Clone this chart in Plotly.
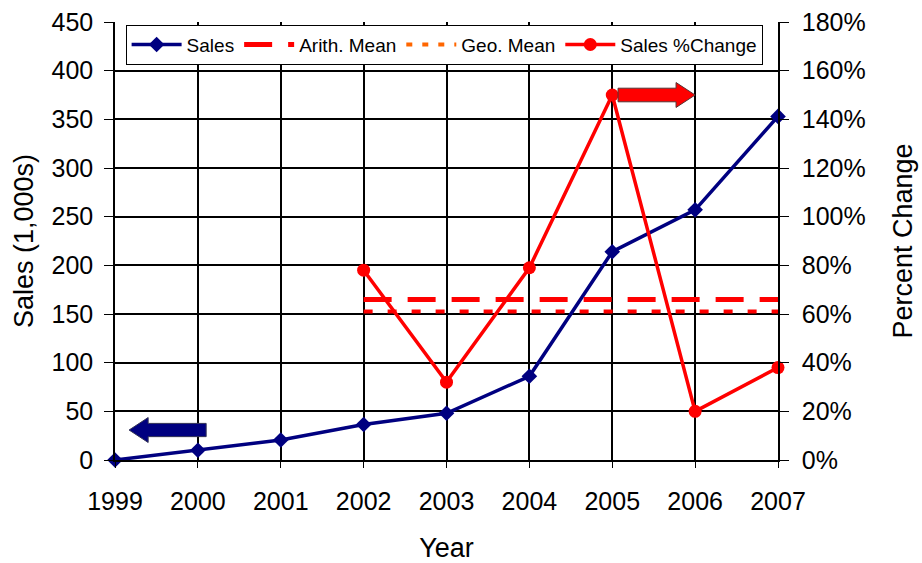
import plotly.graph_objects as go

years = [1999, 2000, 2001, 2002, 2003, 2004, 2005, 2006, 2007]
sales = [0, 10, 20.5, 36.5, 48, 86, 214, 257, 353]
pct_change = [None, None, None, 78, 32, 79, 150, 20, 38]
mean_years = [2002, 2007]
arith_mean = [66, 66]
geo_mean = [61, 61]
left_ticks = [0, 50, 100, 150, 200, 250, 300, 350, 400, 450]
right_ticks = [0, 20, 40, 60, 80, 100, 120, 140, 160, 180]
right_labels = [f"{v}%" for v in right_ticks]

FONT = "Liberation Sans, Arial, sans-serif"
NAVY = "#000080"
RED = "#ff0000"
ORANGE = "#ff6600"
TICKFONT = dict(family=FONT, size=25, color="black")
TITLEFONT = dict(family=FONT, size=27, color="black")

fig = go.Figure()

fig.add_trace(go.Scatter(x=years, y=sales, name="Sales", mode="lines+markers",
                         line=dict(color=NAVY, width=3.5),
                         marker=dict(symbol="diamond", size=12, color=NAVY),
                         cliponaxis=False, yaxis="y"))
fig.add_trace(go.Scatter(x=mean_years, y=arith_mean, name="Arith. Mean", mode="lines",
                         line=dict(color=RED, width=5, dash="28px,16px"),
                         yaxis="y2"))
fig.add_trace(go.Scatter(x=mean_years, y=geo_mean, name="Geo. Mean", mode="lines",
                         line=dict(color=RED, width=4, dash="9px,15px"),
                         showlegend=False, yaxis="y2"))
fig.add_trace(go.Scatter(x=[None], y=[None], name="Geo. Mean", mode="lines",
                         line=dict(color=ORANGE, width=4, dash="6px,10px"),
                         yaxis="y2"))
fig.add_trace(go.Scatter(x=years, y=pct_change, name="Sales %Change", mode="lines+markers",
                         line=dict(color=RED, width=3.5),
                         marker=dict(symbol="circle", size=13, color=RED),
                         cliponaxis=False, yaxis="y2"))

# block arrows (decorations)
def block_arrow(tip_x, base_x, tail_x, yc, body_h, head_h):
    return (f"M {tip_x},{yc} L {base_x},{yc + head_h} L {base_x},{yc + body_h} "
            f"L {tail_x},{yc + body_h} L {tail_x},{yc - body_h} L {base_x},{yc - body_h} "
            f"L {base_x},{yc - head_h} Z")

fig.add_shape(type="path", xref="x", yref="y",
              path=block_arrow(1999.17, 1999.40, 2000.10, 30.8, 6.8, 12.8),
              fillcolor=NAVY, line=dict(color="#333355", width=1))
fig.add_shape(type="path", xref="x", yref="y",
              path=block_arrow(2006.0, 2005.77, 2005.07, 375, 7.0, 12.8),
              fillcolor=RED, line=dict(color="#553333", width=1))

fig.update_layout(
    width=922, height=563,
    margin=dict(l=115, r=144, t=22, b=103),
    paper_bgcolor="white", plot_bgcolor="white",
    font=dict(family=FONT, size=21, color="black"),
    showlegend=True,
    legend=dict(orientation="h", x=0.016, y=0.994, xanchor="left", yanchor="top",
                bgcolor="white", bordercolor="black", borderwidth=1,
                font=dict(family=FONT, size=19, color="black"),
                itemwidth=50, tracegroupgap=0),
    xaxis=dict(range=[1999, 2007], tickmode="array", tickvals=years,
               ticktext=[str(y) for y in years], tickfont=TICKFONT,
               showgrid=True, gridcolor="black", gridwidth=1.5,
               ticks="outside", ticklen=6, tickcolor="black",
               ticklabelstandoff=12, automargin=False,
               showline=True, linecolor="black", linewidth=1.5,
               zeroline=False,
               title=dict(text="Year", font=TITLEFONT, standoff=24)),
    yaxis=dict(range=[0, 450], tickmode="array", tickvals=left_ticks,
               ticktext=[str(v) for v in left_ticks], tickfont=TICKFONT,
               showgrid=True, gridcolor="black", gridwidth=1.5,
               ticks="outside", ticklen=9, tickcolor="black",
               ticklabelstandoff=6, automargin=False,
               showline=True, linecolor="black", linewidth=1.5,
               zeroline=False,
               title=dict(text="Sales (1,000s)", font=TITLEFONT, standoff=10)),
    yaxis2=dict(range=[0, 180], tickmode="array", tickvals=right_ticks,
                ticktext=right_labels, tickfont=TICKFONT,
                overlaying="y", side="right",
                showgrid=False, ticks="outside", ticklen=9, tickcolor="black",
                ticklabelstandoff=8, automargin=False,
                showline=True, linecolor="black", linewidth=1.5,
                zeroline=False,
                title=dict(text="Percent Change", font=TITLEFONT, standoff=28)),
)

fig.write_html("out.html")
